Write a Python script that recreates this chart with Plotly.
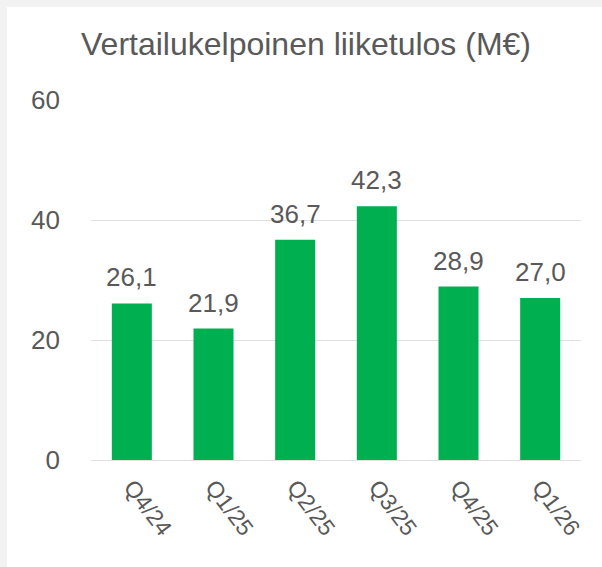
import plotly.graph_objects as go

categories = ["Q4/24", "Q1/25", "Q2/25", "Q3/25", "Q4/25", "Q1/26"]
values = [26.1, 21.9, 36.7, 42.3, 28.9, 27.0]
labels = ["26,1", "21,9", "36,7", "42,3", "28,9", "27,0"]
y_ticks = [0, 20, 40, 60]

W, H = 602, 567
L, R, T, B = 91, 21, 100, 107
pw, ph = W - L - R, H - T - B

text_color = "#595959"
font_family = "Liberation Sans, Arial, sans-serif"

fig = go.Figure()
fig.add_trace(go.Bar(
    x=categories, y=values,
    marker=dict(color="#00B050", line=dict(width=0)),
    hoverinfo="skip",
))

for c, v, t in zip(categories, values, labels):
    fig.add_annotation(
        x=c, y=v, text=t, showarrow=False,
        xanchor="center", yanchor="bottom", yshift=9,
        font=dict(size=26, color=text_color, family=font_family),
    )

# white card over a light gray page
fig.add_shape(
    type="rect", xref="paper", yref="paper", layer="below",
    x0=(7 - L) / pw, x1=(W + 10 - L) / pw,
    y0=-(H + 10 - T - ph) / ph, y1=(ph + T - 7) / ph,
    fillcolor="white", line=dict(width=0),
)

fig.update_layout(
    width=W, height=H,
    margin=dict(l=L, r=R, t=T, b=B),
    paper_bgcolor="#f2f2f2",
    plot_bgcolor="white",
    showlegend=False,
    bargap=0.51,
    title=dict(
        text="Vertailukelpoinen liiketulos (M€)",
        x=306 / W, xref="container", xanchor="center",
        y=(H - 44) / H, yanchor="middle",
        font=dict(size=32, color=text_color, family=font_family),
    ),
    font=dict(family=font_family, color=text_color),
)
fig.update_xaxes(
    tickangle=53,
    tickfont=dict(size=23, color=text_color, family=font_family),
    showgrid=False, showline=False, ticks="",
    ticklabelstandoff=8,
)
fig.update_yaxes(
    range=[0, 60],
    tickvals=y_ticks,
    ticktext=[str(v) for v in y_ticks],
    tickfont=dict(size=26, color=text_color, family=font_family),
    showgrid=True, gridcolor="#e0e0e0", gridwidth=1.3,
    zeroline=True, zerolinecolor="#e0e0e0", zerolinewidth=1.3,
    showline=False, ticks="",
    ticklabelstandoff=30,
)

fig.write_html(
    "out.html",
    config={"displayModeBar": False},
    post_script="document.body.style.margin='0';document.body.style.overflow='hidden';",
)
